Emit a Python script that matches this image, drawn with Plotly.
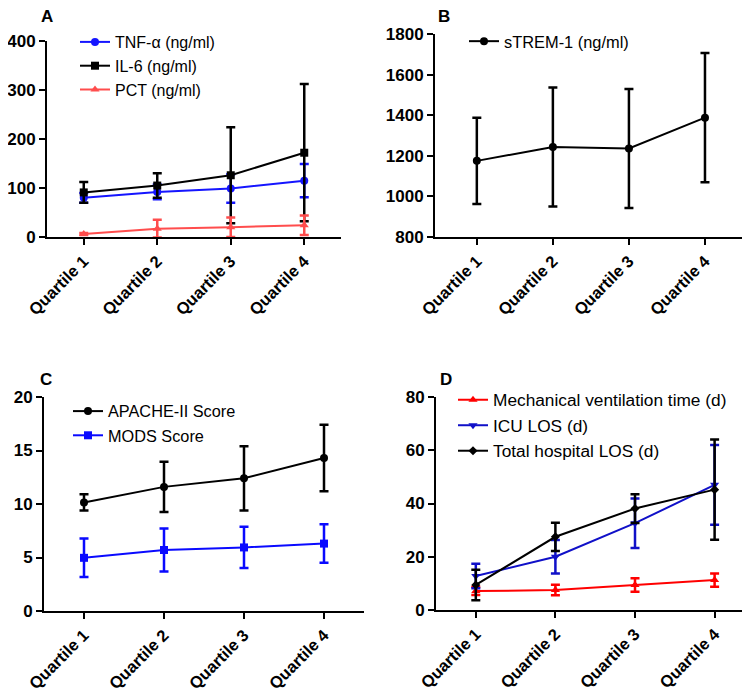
import plotly.graph_objects as go

quartiles = ["Quartile 1", "Quartile 2", "Quartile 3", "Quartile 4"]

# Panel A
tnf_mean = [80, 92, 99, 115]
tnf_sd = [10, 15, 29, 34]
il6_mean = [91, 105, 126, 172]
il6_sd = [21, 25, 98, 140]
pct_mean = [6, 17, 20, 24]
pct_sd = [2, 18, 20, 20]

# Panel B
strem_mean = [1175, 1243, 1236, 1388]
strem_sd = [212, 293, 293, 318]

# Panel C
apache_mean = [10.15, 11.6, 12.4, 14.3]
apache_sd = [0.75, 2.35, 3.0, 3.1]
mods_mean = [4.97, 5.7, 5.94, 6.3]
mods_sd = [1.8, 2.0, 1.93, 1.8]

# Panel D
mv_mean = [7.1, 7.5, 9.4, 11.25]
mv_sd = [1.5, 2.0, 2.5, 2.5]
icu_mean = [12.8, 20.0, 32.6, 47.0]
icu_sd = [4.6, 6.3, 9.3, 15.0]
hosp_mean = [9.4, 27.5, 38.1, 45.2]
hosp_sd = [5.7, 5.3, 5.4, 18.8]

W, H = 750, 691
FONT = "Arial, Liberation Sans, sans-serif"

def px_x(p):
    return p / W

def px_y(p):
    return 1 - p / H

def xd(a, b):
    return [px_x(a), px_x(b)]

def yd(top, bottom):
    return [px_y(bottom), px_y(top)]

fig = go.Figure()

def add(name, x, y, sd, color, symbol, xa, ya, legend, msize=8, lw=2):
    fig.add_trace(go.Scatter(
        x=x, y=y, name=name, mode="lines+markers",
        line=dict(color=color, width=lw),
        marker=dict(symbol=symbol, size=msize, color=color),
        error_y=dict(type="data", array=sd, visible=True, color=color,
                     thickness=2.5, width=4.5),
        xaxis=xa, yaxis=ya, legend=legend, cliponaxis=False,
    ))

add("TNF-α (ng/ml)", quartiles, tnf_mean, tnf_sd, "#1515ff", "circle", "x", "y", "legend")
add("IL-6 (ng/ml)", quartiles, il6_mean, il6_sd, "#000000", "square", "x", "y", "legend")
add("PCT (ng/ml)", quartiles, pct_mean, pct_sd, "#ff4d4d", "triangle-up", "x", "y", "legend")

add("sTREM-1 (ng/ml)", quartiles, strem_mean, strem_sd, "#000000", "circle", "x2", "y2", "legend2")

add("APACHE-II Score", quartiles, apache_mean, apache_sd, "#000000", "circle", "x3", "y3", "legend3")
add("MODS Score", quartiles, mods_mean, mods_sd, "#0a0aff", "square", "x3", "y3", "legend3")

add("Mechanical ventilation time (d)", quartiles, mv_mean, mv_sd, "#ff0000", "triangle-up", "x4", "y4", "legend4")
add("ICU LOS (d)", quartiles, icu_mean, icu_sd, "#1010c8", "triangle-down", "x4", "y4", "legend4")
add("Total hospital LOS (d)", quartiles, hosp_mean, hosp_sd, "#000000", "diamond", "x4", "y4", "legend4", msize=7)

xcommon = dict(type="category", showline=True, linecolor="black", linewidth=2,
               ticks="outside", ticklen=6, tickwidth=2, tickcolor="black",
               tickangle=-45, showgrid=False, zeroline=False, automargin=False,
               tickfont=dict(family=FONT, size=16.5, color="black", weight="bold"))
ycommon = dict(showline=True, linecolor="black", linewidth=2,
               ticks="outside", ticklen=6, tickwidth=2, tickcolor="black",
               showgrid=False, zeroline=False, automargin=False,
               tickfont=dict(family=FONT, size=17, color="black", weight="bold"))

fig.update_layout(
    width=W, height=H, margin=dict(l=0, r=0, t=0, b=0),
    paper_bgcolor="white", plot_bgcolor="white",
    showlegend=True,
    xaxis=dict(xcommon, domain=xd(39, 333), range=[-0.5, 3.5], anchor="y"),
    yaxis=dict(ycommon, domain=yd(33, 229), range=[0, 400], tickvals=[0, 100, 200, 300, 400], anchor="x"),
    xaxis2=dict(xcommon, domain=xd(427, 735), range=[-0.55, 3.5], anchor="y2"),
    yaxis2=dict(ycommon, domain=yd(26, 229), range=[800, 1800], tickvals=[800, 1000, 1200, 1400, 1600, 1800], anchor="x2"),
    xaxis3=dict(xcommon, domain=xd(36, 356), range=[-0.5, 3.5], anchor="y3"),
    yaxis3=dict(ycommon, domain=yd(389, 603), range=[0, 20], tickvals=[0, 5, 10, 15, 20], anchor="x3"),
    xaxis4=dict(xcommon, domain=xd(428, 748), range=[-0.5, 3.52], anchor="y4"),
    yaxis4=dict(ycommon, domain=yd(389, 602), range=[0, 80], tickvals=[0, 20, 40, 60, 80], anchor="x4"),
)

def leg(x, y, size):
    return dict(x=px_x(x), y=px_y(y), xanchor="left", yanchor="top",
                bgcolor="rgba(0,0,0,0)", font=dict(family=FONT, size=size, color="black"),
                itemwidth=30, tracegroupgap=0)

fig.update_layout(
    legend=leg(67, 17, 16),
    legend2=leg(456, 16, 16.4),
    legend3=leg(60, 386, 16.3),
    legend4=leg(445, 374, 17.3),
)

for txt, x, y in [("A", 31, 8), ("B", 428, 8), ("C", 30, 372), ("D", 430, 372)]:
    fig.add_annotation(text="<b>%s</b>" % txt, x=px_x(x), y=px_y(y), xref="paper", yref="paper",
                       xanchor="left", yanchor="middle", showarrow=False,
                       font=dict(family=FONT, size=17, color="black"))

fig.write_html("out.html")
